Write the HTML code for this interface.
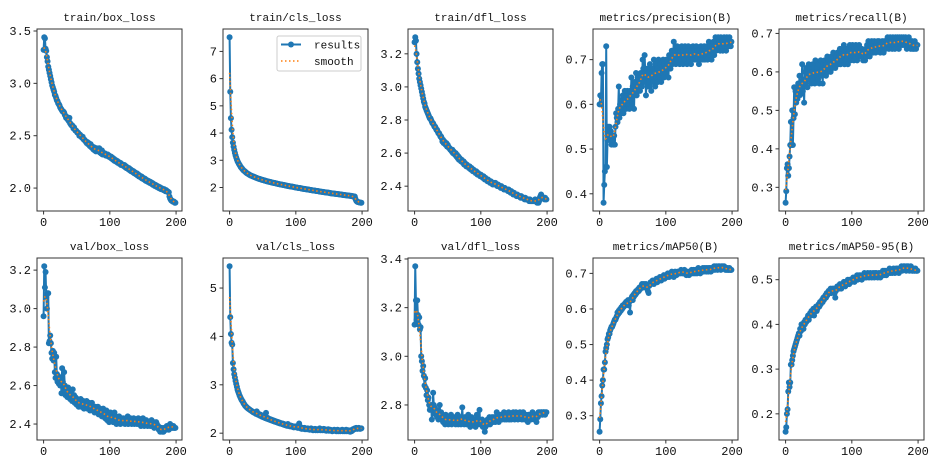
<!DOCTYPE html>
<html><head><meta charset="utf-8"><style>
html,body{margin:0;padding:0;background:#fff;}
svg{display:block;}
text{font-family:"Liberation Mono","WenQuanYi Zen Hei",monospace;fill:#111;}
</style></head><body>
<svg id="fig" width="939" height="470" viewBox="0 0 939 470" xmlns="http://www.w3.org/2000/svg"></svg>
<script>
const titles=["train/box_loss","train/cls_loss","train/dfl_loss","metrics/precision(B)","metrics/recall(B)","val/box_loss","val/cls_loss","val/dfl_loss","metrics/mAP50(B)","metrics/mAP50-95(B)"];
const xTicks=[0,100,200];
const yTicks0=[2.0,2.5,3.0,3.5];
const yTicks1=[2,3,4,5,6,7];
const yTicks2=[2.4,2.6,2.8,3.0,3.2];
const yTicks3=[0.4,0.5,0.6,0.7];
const yTicks4=[0.3,0.4,0.5,0.6,0.7];
const yTicks5=[2.4,2.6,2.8,3.0,3.2];
const yTicks6=[2,3,4,5];
const yTicks7=[2.8,3.0,3.2,3.4];
const yTicks8=[0.3,0.4,0.5,0.6,0.7];
const yTicks9=[0.2,0.3,0.4,0.5];
const yTickDigits=[1,0,1,1,1,1,0,1,1,1];

const trainBox=[3.32,3.44,3.43,3.33,3.31,3.25,3.21,3.16,3.13,3.10,3.07,3.04,3.01,2.98,2.96,2.94,2.92,2.89,2.88,2.86,
2.84,2.83,2.81,2.80,2.79,2.77,2.76,2.75,2.74,2.73,2.73,2.72,2.70,2.69,2.67,2.68,2.66,2.65,2.64,2.67,
2.62,2.61,2.60,2.60,2.59,2.57,2.58,2.56,2.55,2.55,2.54,2.53,2.53,2.52,2.50,2.51,2.50,2.49,2.48,2.49,
2.47,2.46,2.46,2.45,2.44,2.43,2.44,2.42,2.43,2.41,2.40,2.42,2.39,2.40,2.38,2.37,2.39,2.36,2.37,2.35,
2.38,2.36,2.37,2.35,2.38,2.34,2.35,2.33,2.36,2.32,2.34,2.33,2.32,2.33,2.31,2.32,2.31,2.32,2.30,2.31,
2.30,2.29,2.30,2.28,2.29,2.27,2.28,2.26,2.27,2.26,2.25,2.26,2.24,2.25,2.24,2.23,2.24,2.22,2.23,2.22,
2.22,2.21,2.22,2.20,2.21,2.19,2.20,2.19,2.18,2.19,2.17,2.18,2.16,2.17,2.16,2.15,2.16,2.14,2.15,2.14,
2.13,2.14,2.12,2.13,2.11,2.12,2.11,2.10,2.11,2.09,2.10,2.09,2.08,2.09,2.07,2.08,2.07,2.06,2.07,2.06,
2.05,2.06,2.05,2.04,2.05,2.03,2.04,2.03,2.02,2.03,2.02,2.01,2.02,2.01,2.00,2.01,2.00,1.99,2.00,1.99,
1.99,1.98,1.99,1.98,1.97,1.98,1.97,1.97,1.96,1.96,1.92,1.90,1.89,1.88,1.88,1.87,1.87,1.87,1.86,1.86];
const trainCls=[7.52,5.52,4.55,4.12,3.85,3.65,3.50,3.38,3.27,3.18,3.10,3.03,2.97,2.92,2.87,2.83,2.79,2.75,2.72,2.69,
2.66,2.63,2.61,2.59,2.57,2.55,2.53,2.51,2.50,2.48,2.47,2.45,2.44,2.43,2.42,2.41,2.40,2.39,2.38,2.37,
2.36,2.35,2.34,2.33,2.32,2.31,2.31,2.30,2.29,2.28,2.28,2.27,2.26,2.25,2.25,2.24,2.23,2.23,2.22,2.21,
2.21,2.20,2.20,2.19,2.18,2.18,2.17,2.17,2.16,2.16,2.15,2.14,2.14,2.13,2.13,2.12,2.12,2.11,2.11,2.10,
2.10,2.09,2.09,2.08,2.08,2.07,2.07,2.06,2.06,2.05,2.05,2.04,2.04,2.03,2.03,2.03,2.02,2.02,2.01,2.01,
2.00,2.00,1.99,1.99,1.98,1.98,1.98,1.97,1.97,1.96,1.96,1.95,1.95,1.95,1.94,1.94,1.93,1.93,1.93,1.92,
1.92,1.91,1.91,1.91,1.90,1.90,1.89,1.89,1.89,1.88,1.88,1.87,1.87,1.87,1.86,1.86,1.85,1.85,1.85,1.84,
1.84,1.84,1.83,1.83,1.82,1.82,1.82,1.81,1.81,1.81,1.80,1.80,1.79,1.79,1.79,1.78,1.78,1.78,1.77,1.77,
1.77,1.76,1.76,1.76,1.75,1.75,1.75,1.74,1.74,1.74,1.73,1.73,1.73,1.72,1.72,1.72,1.71,1.71,1.71,1.70,
1.70,1.70,1.69,1.69,1.69,1.68,1.68,1.68,1.67,1.67,1.58,1.52,1.49,1.47,1.46,1.46,1.45,1.45,1.44,1.44];
const trainDfl=[3.27,3.30,3.28,3.20,3.15,3.11,3.08,3.05,3.03,3.01,2.99,2.97,2.95,2.93,2.91,2.90,2.88,2.87,2.86,2.85,
2.84,2.83,2.82,2.81,2.81,2.80,2.79,2.78,2.78,2.77,2.76,2.76,2.75,2.74,2.74,2.73,2.72,2.72,2.71,2.70,
2.70,2.69,2.67,2.68,2.66,2.67,2.66,2.65,2.66,2.64,2.65,2.64,2.63,2.63,2.62,2.62,2.61,2.62,2.60,2.61,
2.60,2.59,2.60,2.58,2.59,2.57,2.58,2.56,2.57,2.56,2.55,2.56,2.55,2.54,2.55,2.53,2.54,2.53,2.52,2.53,
2.52,2.52,2.51,2.52,2.51,2.50,2.51,2.50,2.49,2.50,2.49,2.49,2.48,2.49,2.48,2.47,2.48,2.47,2.47,2.46,
2.47,2.46,2.46,2.45,2.46,2.45,2.44,2.45,2.44,2.44,2.43,2.44,2.43,2.43,2.42,2.43,2.42,2.42,2.41,2.42,
2.42,2.41,2.42,2.41,2.41,2.40,2.41,2.40,2.40,2.40,2.39,2.40,2.39,2.39,2.39,2.38,2.39,2.38,2.38,2.38,
2.38,2.37,2.38,2.37,2.37,2.36,2.37,2.36,2.36,2.35,2.36,2.35,2.35,2.35,2.34,2.35,2.34,2.34,2.34,2.34,
2.33,2.34,2.33,2.33,2.33,2.33,2.32,2.33,2.32,2.32,2.32,2.32,2.32,2.31,2.32,2.31,2.31,2.31,2.31,2.31,
2.31,2.31,2.32,2.31,2.31,2.30,2.31,2.30,2.31,2.33,2.34,2.35,2.34,2.33,2.33,2.33,2.32,2.33,2.32,2.32];
const precision=[0.60,0.62,0.60,0.67,0.69,0.69,0.38,0.42,0.45,0.46,0.73,0.46,0.52,0.55,0.53,0.55,0.52,0.54,0.51,0.53,
0.52,0.51,0.53,0.51,0.55,0.58,0.57,0.56,0.59,0.64,0.57,0.60,0.58,0.61,0.59,0.62,0.58,0.60,0.63,0.61,
0.59,0.62,0.63,0.60,0.61,0.59,0.63,0.62,0.66,0.60,0.64,0.62,0.59,0.65,0.63,0.67,0.62,0.64,0.66,0.63,
0.65,0.63,0.67,0.66,0.64,0.70,0.68,0.65,0.71,0.67,0.62,0.66,0.68,0.64,0.67,0.65,0.69,0.66,0.63,0.67,
0.68,0.65,0.70,0.67,0.64,0.69,0.66,0.68,0.65,0.70,0.67,0.66,0.69,0.65,0.68,0.67,0.70,0.66,0.69,0.68,
0.67,0.70,0.68,0.69,0.66,0.71,0.69,0.68,0.70,0.72,0.69,0.71,0.74,0.70,0.72,0.69,0.71,0.73,0.70,0.72,
0.71,0.69,0.72,0.70,0.73,0.71,0.69,0.72,0.70,0.73,0.71,0.72,0.69,0.71,0.73,0.70,0.72,0.71,0.69,0.72,
0.70,0.73,0.71,0.72,0.70,0.71,0.73,0.70,0.72,0.71,0.69,0.72,0.70,0.73,0.71,0.72,0.70,0.71,0.73,0.70,
0.72,0.71,0.73,0.70,0.72,0.74,0.71,0.73,0.72,0.70,0.73,0.72,0.74,0.71,0.73,0.75,0.72,0.74,0.73,0.75,
0.73,0.74,0.72,0.75,0.73,0.74,0.72,0.74,0.75,0.73,0.74,0.72,0.75,0.73,0.74,0.73,0.75,0.74,0.73,0.74];
const recall=[0.26,0.29,0.35,0.36,0.33,0.35,0.38,0.41,0.47,0.41,0.50,0.41,0.48,0.56,0.49,0.55,0.52,0.56,0.53,0.57,
0.55,0.59,0.54,0.57,0.56,0.62,0.55,0.58,0.52,0.60,0.57,0.61,0.59,0.56,0.60,0.62,0.58,0.61,0.59,0.57,
0.60,0.62,0.58,0.61,0.57,0.63,0.60,0.59,0.61,0.58,0.62,0.57,0.60,0.63,0.59,0.61,0.57,0.62,0.60,0.63,
0.61,0.59,0.62,0.64,0.60,0.63,0.61,0.62,0.60,0.64,0.62,0.61,0.65,0.62,0.63,0.61,0.64,0.62,0.65,0.63,
0.62,0.64,0.66,0.62,0.65,0.63,0.66,0.64,0.67,0.62,0.65,0.63,0.66,0.64,0.62,0.66,0.65,0.67,0.63,0.66,
0.64,0.67,0.65,0.63,0.66,0.64,0.67,0.65,0.63,0.66,0.64,0.67,0.65,0.66,0.64,0.66,0.65,0.63,0.65,0.64,
0.63,0.66,0.64,0.67,0.65,0.68,0.66,0.64,0.67,0.65,0.68,0.66,0.65,0.67,0.68,0.66,0.65,0.67,0.66,0.68,
0.66,0.68,0.67,0.65,0.67,0.66,0.68,0.67,0.65,0.68,0.67,0.66,0.68,0.67,0.69,0.68,0.66,0.68,0.69,0.67,
0.68,0.66,0.69,0.67,0.68,0.66,0.69,0.68,0.67,0.69,0.68,0.66,0.69,0.68,0.67,0.69,0.68,0.67,0.69,0.68,
0.67,0.69,0.68,0.66,0.68,0.67,0.69,0.67,0.68,0.66,0.67,0.68,0.66,0.67,0.66,0.68,0.67,0.66,0.67,0.67];
const valBox=[2.96,3.22,3.11,3.19,3.06,3.00,3.08,3.08,2.82,2.83,2.86,2.82,2.77,2.74,2.78,2.73,2.77,2.67,2.64,2.75,
2.66,2.62,2.65,2.61,2.64,2.60,2.63,2.56,2.69,2.62,2.58,2.67,2.60,2.55,2.58,2.56,2.54,2.59,2.55,2.57,
2.53,2.56,2.54,2.52,2.58,2.53,2.55,2.51,2.54,2.52,2.50,2.53,2.51,2.49,2.52,2.50,2.53,2.49,2.51,2.50,
2.52,2.48,2.51,2.49,2.50,2.52,2.48,2.50,2.49,2.51,2.47,2.50,2.48,2.51,2.47,2.49,2.48,2.46,2.49,2.47,
2.48,2.46,2.49,2.45,2.47,2.48,2.45,2.47,2.44,2.46,2.48,2.44,2.46,2.43,2.45,2.47,2.42,2.45,2.43,2.41,
2.44,2.46,2.42,2.45,2.43,2.41,2.44,2.46,2.42,2.44,2.40,2.43,2.42,2.41,2.44,2.42,2.40,2.43,2.41,2.42,
2.43,2.41,2.42,2.40,2.43,2.41,2.42,2.44,2.40,2.42,2.41,2.43,2.41,2.40,2.42,2.41,2.43,2.40,2.42,2.41,
2.42,2.40,2.41,2.43,2.40,2.42,2.41,2.39,2.42,2.40,2.43,2.41,2.39,2.41,2.40,2.42,2.40,2.39,2.41,2.40,
2.41,2.39,2.40,2.42,2.39,2.40,2.41,2.38,2.40,2.39,2.41,2.40,2.38,2.39,2.37,2.38,2.36,2.37,2.38,2.36,
2.37,2.36,2.38,2.37,2.38,2.37,2.39,2.38,2.38,2.37,2.39,2.40,2.39,2.38,2.39,2.38,2.39,2.38,2.38,2.38];
const valCls=[5.45,4.40,4.05,3.87,3.83,3.45,3.32,3.22,3.15,3.08,3.02,2.96,2.90,2.86,2.82,2.78,2.75,2.72,2.69,2.67,
2.65,2.62,2.60,2.58,2.56,2.55,2.53,2.52,2.51,2.50,2.49,2.48,2.47,2.46,2.45,2.44,2.43,2.43,2.42,2.41,
2.40,2.45,2.39,2.38,2.40,2.37,2.36,2.38,2.35,2.34,2.36,2.33,2.35,2.32,2.31,2.42,2.30,2.32,2.29,2.30,
2.28,2.29,2.27,2.28,2.26,2.27,2.25,2.26,2.24,2.25,2.23,2.24,2.22,2.23,2.21,2.22,2.20,2.21,2.20,2.19,
2.20,2.18,2.19,2.17,2.18,2.16,2.17,2.15,2.19,2.16,2.15,2.14,2.16,2.14,2.15,2.13,2.14,2.12,2.13,2.14,
2.13,2.12,2.14,2.11,2.12,2.20,2.11,2.10,2.12,2.09,2.11,2.10,2.09,2.11,2.08,2.10,2.09,2.08,2.10,2.08,
2.09,2.07,2.08,2.10,2.07,2.08,2.06,2.08,2.07,2.09,2.06,2.08,2.07,2.06,2.08,2.07,2.10,2.06,2.07,2.08,
2.06,2.07,2.09,2.06,2.08,2.07,2.05,2.07,2.06,2.08,2.05,2.06,2.07,2.05,2.06,2.04,2.06,2.05,2.07,2.05,
2.06,2.04,2.05,2.07,2.04,2.06,2.05,2.04,2.06,2.05,2.07,2.04,2.05,2.06,2.04,2.05,2.07,2.04,2.05,2.06,
2.04,2.05,2.03,2.06,2.04,2.05,2.08,2.07,2.09,2.10,2.09,2.11,2.10,2.09,2.10,2.11,2.10,2.09,2.10,2.10];
const valDfl=[3.13,3.37,3.23,3.15,3.23,3.17,3.13,3.16,3.11,3.12,3.00,2.98,2.94,2.96,2.92,2.88,2.91,2.87,2.84,2.86,
2.82,2.83,2.80,2.78,2.79,2.80,2.74,2.78,2.85,2.80,2.79,2.77,2.76,2.78,2.75,2.77,2.74,2.76,2.80,2.75,
2.77,2.74,2.76,2.73,2.75,2.74,2.72,2.76,2.73,2.75,2.74,2.72,2.75,2.73,2.74,2.76,2.72,2.75,2.73,2.74,
2.73,2.75,2.72,2.74,2.73,2.76,2.72,2.74,2.73,2.75,2.72,2.74,2.79,2.73,2.74,2.72,2.75,2.73,2.74,2.72,
2.73,2.76,2.72,2.74,2.71,2.73,2.75,2.72,2.74,2.73,2.72,2.74,2.71,2.73,2.76,2.72,2.74,2.73,2.78,2.72,
2.73,2.72,2.74,2.71,2.73,2.72,2.69,2.71,2.73,2.72,2.74,2.72,2.73,2.75,2.72,2.74,2.73,2.75,2.74,2.73,
2.75,2.74,2.73,2.75,2.77,2.74,2.76,2.73,2.75,2.74,2.76,2.75,2.74,2.76,2.75,2.77,2.74,2.76,2.75,2.74,
2.76,2.75,2.77,2.74,2.76,2.75,2.74,2.76,2.75,2.77,2.76,2.74,2.75,2.77,2.76,2.75,2.74,2.76,2.75,2.77,
2.75,2.76,2.74,2.75,2.77,2.76,2.74,2.75,2.76,2.74,2.75,2.73,2.76,2.74,2.75,2.76,2.74,2.75,2.77,2.76,
2.75,2.74,2.76,2.75,2.73,2.76,2.75,2.77,2.76,2.77,2.76,2.77,2.77,2.76,2.77,2.77,2.77,2.76,2.77,2.77];
const map50=[0.255,0.29,0.335,0.355,0.385,0.40,0.43,0.43,0.45,0.48,0.49,0.50,0.515,0.52,0.53,0.53,0.54,0.545,0.55,0.55,
0.555,0.56,0.565,0.57,0.57,0.575,0.58,0.59,0.585,0.595,0.59,0.60,0.595,0.605,0.60,0.61,0.605,0.61,0.615,0.61,
0.62,0.615,0.62,0.625,0.61,0.62,0.59,0.625,0.63,0.635,0.625,0.64,0.635,0.645,0.64,0.65,0.645,0.65,0.655,0.65,
0.66,0.655,0.66,0.665,0.67,0.66,0.665,0.67,0.665,0.66,0.67,0.665,0.66,0.65,0.645,0.665,0.67,0.675,0.67,0.675,
0.68,0.675,0.67,0.68,0.675,0.68,0.685,0.675,0.68,0.685,0.68,0.69,0.685,0.68,0.69,0.685,0.69,0.695,0.685,0.69,
0.69,0.695,0.69,0.70,0.695,0.69,0.70,0.695,0.70,0.705,0.695,0.70,0.69,0.70,0.705,0.70,0.695,0.70,0.705,0.70,
0.70,0.705,0.70,0.71,0.705,0.70,0.705,0.70,0.71,0.705,0.70,0.695,0.70,0.705,0.70,0.695,0.70,0.705,0.70,0.71,
0.705,0.70,0.71,0.705,0.70,0.71,0.705,0.70,0.71,0.715,0.705,0.71,0.70,0.71,0.705,0.71,0.715,0.705,0.71,0.715,
0.71,0.705,0.715,0.71,0.705,0.715,0.71,0.715,0.705,0.71,0.715,0.71,0.715,0.72,0.71,0.715,0.72,0.715,0.71,0.72,
0.715,0.72,0.715,0.71,0.72,0.715,0.72,0.715,0.72,0.715,0.71,0.715,0.71,0.715,0.71,0.71,0.715,0.71,0.71,0.71];
const map5095=[0.16,0.17,0.20,0.21,0.25,0.27,0.26,0.27,0.31,0.31,0.32,0.33,0.34,0.345,0.35,0.355,0.36,0.365,0.37,0.375,
0.38,0.375,0.39,0.385,0.40,0.395,0.40,0.39,0.405,0.40,0.41,0.405,0.41,0.415,0.42,0.41,0.42,0.425,0.42,0.43,
0.425,0.43,0.435,0.42,0.43,0.435,0.44,0.43,0.435,0.44,0.445,0.44,0.45,0.445,0.45,0.455,0.45,0.46,0.455,0.46,
0.465,0.46,0.47,0.465,0.47,0.475,0.47,0.475,0.48,0.47,0.475,0.48,0.475,0.48,0.47,0.46,0.475,0.48,0.485,0.48,
0.485,0.48,0.49,0.485,0.48,0.49,0.485,0.49,0.495,0.49,0.485,0.49,0.495,0.49,0.50,0.495,0.49,0.50,0.495,0.50,
0.495,0.50,0.505,0.50,0.495,0.505,0.50,0.505,0.51,0.50,0.505,0.51,0.505,0.51,0.505,0.50,0.51,0.505,0.51,0.515,
0.505,0.51,0.505,0.51,0.515,0.51,0.505,0.51,0.515,0.51,0.505,0.51,0.515,0.51,0.505,0.515,0.51,0.515,0.51,0.505,
0.51,0.515,0.51,0.505,0.515,0.51,0.515,0.52,0.51,0.515,0.52,0.515,0.51,0.515,0.52,0.515,0.52,0.525,0.515,0.52,
0.52,0.515,0.52,0.525,0.52,0.515,0.52,0.525,0.52,0.525,0.52,0.515,0.525,0.52,0.525,0.53,0.52,0.525,0.53,0.525,
0.53,0.525,0.52,0.53,0.525,0.53,0.525,0.52,0.525,0.53,0.525,0.52,0.52,0.525,0.52,0.52,0.525,0.52,0.52,0.52];

const seriesList=[trainBox,trainCls,trainDfl,precision,recall,valBox,valCls,valDfl,map50,map5095];
const yTicksList=[yTicks0,yTicks1,yTicks2,yTicks3,yTicks4,yTicks5,yTicks6,yTicks7,yTicks8,yTicks9];

const NS="http://www.w3.org/2000/svg";
const svg=document.getElementById('fig');
function mk(tag,attrs,parent){const e=document.createElementNS(NS,tag);for(const k in attrs)e.setAttribute(k,attrs[k]);(parent||svg).appendChild(e);return e;}
function gaussSmooth(arr,sigma){const r=Math.ceil(sigma*4);const w=[];let s=0;for(let i=-r;i<=r;i++){const v=Math.exp(-i*i/(2*sigma*sigma));w.push(v);s+=v;}
return arr.map((_,i)=>{let acc=0;for(let k=-r;k<=r;k++){let j=Math.min(arr.length-1,Math.max(0,i+k));acc+=arr[j]*w[k+r];}return acc/s;});}

const colLeft=[37,223,408,593,779];
const rowTop=[29,258];
const W=145,H=182;

seriesList.forEach((data,idx)=>{
  const col=idx%5,row=Math.floor(idx/5);
  const L=colLeft[col],T=rowTop[row];
  const g=mk('g',{});
  
  
  const n=data.length;
  const xmin=0,xmax=n-1,xm=(xmax-xmin)*0.05;
  const ymin=Math.min(...data),ymax=Math.max(...data),ym=(ymax-ymin)*0.05;
  const X=v=>L+(v-(xmin-xm))/((xmax+xm)-(xmin-xm))*W;
  const Y=v=>T+H-(v-(ymin-ym))/((ymax+ym)-(ymin-ym))*H;
  const t=mk('text',{x:L+W/2,y:T-8,'text-anchor':'middle','font-size':'11'},g);t.textContent=titles[idx];
  
  
  const cid='c'+idx;const cp=mk('clipPath',{id:cid},g);mk('rect',{x:L,y:T,width:W,height:H},cp);
  const pts=data.map((v,i)=>X(i).toFixed(2)+','+Y(v).toFixed(2)).join(' ');
  const line=mk('polyline',{points:pts,fill:'none',stroke:'#1f77b4','stroke-width':2,'stroke-linejoin':'round','clip-path':'url(#'+cid+')'},g);
  
  
  const mg=mk('g',{fill:'#1f77b4','clip-path':'url(#'+cid+')'},g);
  
  
  data.forEach((v,i)=>{mk('circle',{cx:X(i).toFixed(2),cy:Y(v).toFixed(2),r:3},mg);});
  const sm=gaussSmooth(data,3);
  const spts=sm.map((v,i)=>X(i).toFixed(2)+','+Y(v).toFixed(2)).join(' ');
  const sl=mk('polyline',{points:spts,fill:'none',stroke:'#ff7f0e','stroke-width':1.6,'stroke-dasharray':'1.5,2.5','clip-path':'url(#'+cid+')'},g);
  
  
  const fr=mk('rect',{x:L,y:T,width:W,height:H,fill:'none',stroke:'#333','stroke-width':1},g);
  
  
  xTicks.forEach(v=>{const x=X(v);mk('line',{x1:x,y1:T+H,x2:x,y2:T+H+3.5,stroke:'#333','stroke-width':1},g);
    const tl=mk('text',{x:x,y:T+H+15,'text-anchor':'middle','font-size':'12'},g);tl.textContent=String(v);
    
    });
  yTicksList[idx].forEach(v=>{const y=Y(v);mk('line',{x1:L-3.5,y1:y,x2:L,y2:y,stroke:'#333','stroke-width':1},g);
    const tl=mk('text',{x:L-6,y:y+4,'text-anchor':'end','font-size':'12'},g);tl.textContent=v.toFixed(yTickDigits[idx]);
    
    });
});

const lg=mk('g',{});


mk('rect',{x:277,y:36,width:84,height:35,rx:2,fill:'#fff','fill-opacity':0.8,stroke:'#ccc','stroke-width':1},lg);
mk('line',{x1:281,y1:44.5,x2:301,y2:44.5,stroke:'#1f77b4','stroke-width':2},lg);
mk('circle',{cx:291,cy:44.5,r:3,fill:'#1f77b4'},lg);
const lt1=mk('text',{x:314,y:48.5,'font-size':'11'},lg);lt1.textContent='results';


mk('line',{x1:281,y1:61,x2:301,y2:61,stroke:'#ff7f0e','stroke-width':1.6,'stroke-dasharray':'1.5,2.5'},lg);
const lt2=mk('text',{x:314,y:65,'font-size':'11'},lg);lt2.textContent='smooth';


</script>
</body></html>
